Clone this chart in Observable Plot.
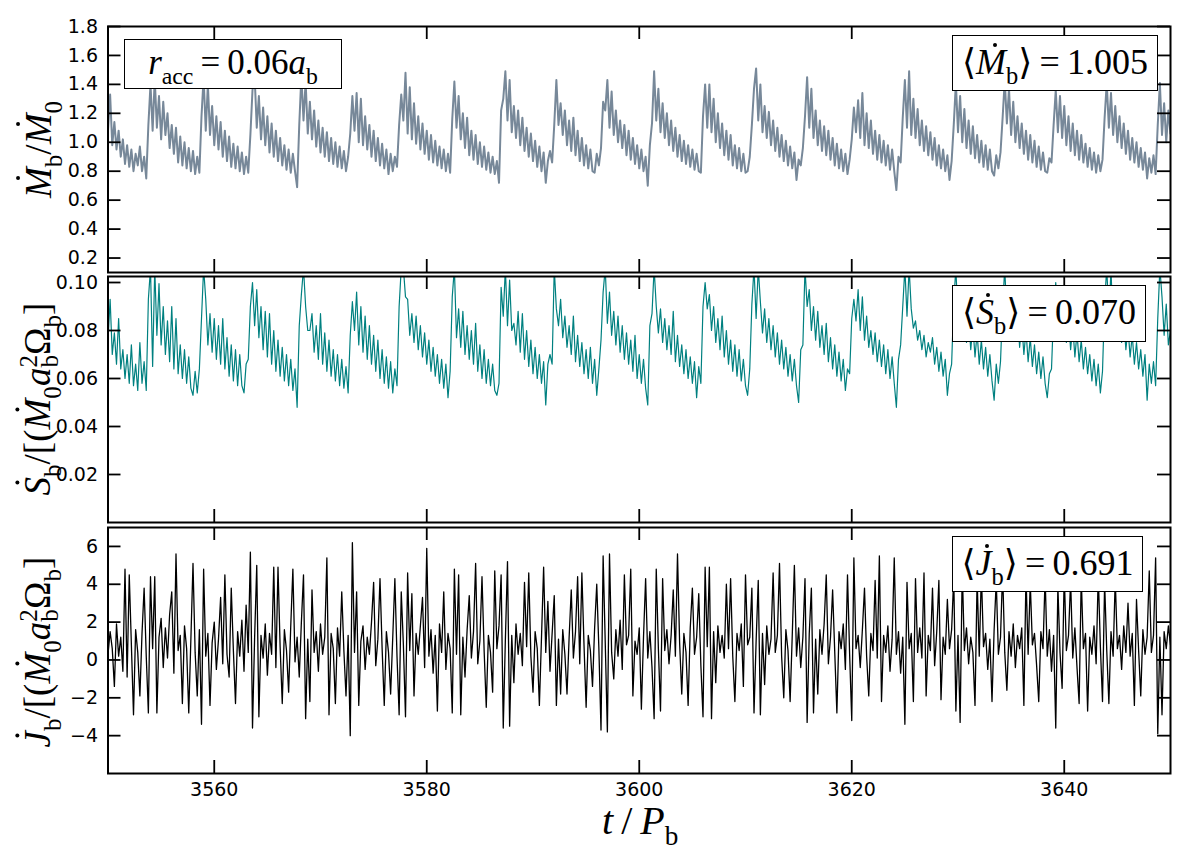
<!DOCTYPE html>
<html>
<head>
<meta charset="utf-8">
<script src="https://cdn.jsdelivr.net/npm/d3@7"></script>
<script src="https://cdn.jsdelivr.net/npm/@observablehq/plot@0.6"></script>
<style>
  html, body { margin: 0; padding: 0; background: #fff; }
  #wrap { position: relative; width: 1200px; height: 850px; background: #fff; overflow: hidden; }
  .panel { position: absolute; left: 0; }
  .math { font-family: "Liberation Serif", "DejaVu Serif", serif; color: #000; white-space: nowrap; }
  .math sub, .math sup { font-size: 0.68em; font-style: normal; line-height: 0; }
  .math sub { vertical-align: -0.42em; }
  .math i { font-style: italic; }
  .d { position: relative; display: inline-block; }
  .d::before { content: ""; position: absolute; left: 58%; top: -0.02em; width: 0.11em; height: 0.11em; border-radius: 50%; background: #000; }
  .ss { display: inline-block; vertical-align: -0.3em; line-height: 0.82; font-size: 0.68em; text-align: left; }
  .box { position: absolute; border: 1.5px solid #000; background: #fff; display: flex; align-items: center; justify-content: center; box-sizing: border-box; font-size: 36px; z-index: 5; }
  .box > span { display: block; line-height: 1; padding-bottom: 0.08em; }
  .ylab { position: absolute; font-size: 37px; transform-origin: center center; z-index: 4; }
  .xlab { position: absolute; font-size: 40px; z-index: 4; }
</style>
</head>
<body>
<div id="wrap"></div>
<script>
// ---------------- data ----------------
const tStart = 3550;          // first sample time  [P_b]
const tStep = 0.2;            // sampling interval  [P_b]

// Mdot_b / Mdot_0  (one line per accretion cycle)
const mdot = [
  1.08,1.33,0.98,1.14,0.95,1.08,0.9,1.02,0.85,0.98,0.83,0.95,0.8,0.92,0.84,0.97,0.8,0.9,0.75,
  1.12,1.4,1.08,1.44,1.1,1.32,1.02,1.28,1.05,1.2,0.96,1.12,0.92,1.1,0.86,1.04,0.84,1.0,0.82,0.96,0.8,0.94,0.78,0.9,0.79,
  1.18,1.45,1.08,1.4,1.05,1.25,0.98,1.18,0.95,1.14,0.9,1.08,0.87,1.04,0.83,0.99,0.82,0.97,0.8,0.93,0.78,0.9,0.79,
  1.05,1.36,1.46,1.1,1.32,1.02,1.24,0.98,1.18,0.93,1.13,0.9,1.08,0.87,1.03,0.84,0.98,0.81,0.95,0.79,0.92,0.8,0.69,
  1.12,1.46,1.15,1.42,1.06,1.28,1.02,1.22,0.97,1.15,0.93,1.1,0.9,1.07,0.87,1.03,0.85,1.0,0.83,0.97,0.82,0.94,0.8,0.9,
  1.06,1.32,1.08,1.34,1.0,1.3,0.98,1.18,0.95,1.12,0.9,1.08,0.87,1.03,0.84,0.99,0.82,0.95,0.78,0.92,0.8,0.9,0.83,
  1.12,1.33,1.15,1.48,1.06,1.38,1.02,1.27,0.99,1.18,0.95,1.13,0.92,1.08,0.88,1.05,0.86,1.01,0.84,0.97,0.82,0.95,0.8,0.92,0.79,
  1.16,1.42,1.1,1.32,1.02,1.2,0.96,1.17,0.91,1.08,0.88,1.05,0.85,1.0,0.83,0.97,0.81,0.93,0.79,0.9,0.78,0.87,0.72,
  1.22,1.3,1.49,1.15,1.43,1.07,1.25,1.03,1.22,0.98,1.17,0.94,1.1,0.9,1.06,0.87,1.01,0.83,0.97,0.8,0.93,0.72,0.87,0.94,0.86,
  1.12,1.43,1.12,1.27,1.05,1.22,0.98,1.15,0.94,1.17,0.91,1.08,0.87,1.03,0.84,0.98,0.82,0.95,0.8,0.79,0.92,0.84,0.96,
  1.28,1.22,1.43,1.1,1.35,1.05,1.22,1.0,1.15,0.96,1.12,0.91,1.08,0.88,1.03,0.85,0.98,0.82,0.95,0.8,0.9,0.7,
  0.98,1.13,1.49,1.15,1.37,1.07,1.27,1.03,1.2,0.98,1.15,0.94,1.1,0.9,1.05,0.87,1.01,0.85,0.98,0.83,0.95,0.81,0.92,0.8,0.79,
  1.18,1.4,1.1,1.4,1.07,1.3,1.0,1.2,0.96,1.13,0.91,1.08,0.88,1.05,0.84,0.98,0.82,0.96,0.8,0.92,0.79,0.8,0.9,
  1.12,1.37,1.51,1.15,1.4,1.07,1.25,1.03,1.21,0.98,1.15,0.94,1.1,0.9,1.05,0.87,1.01,0.84,0.97,0.82,0.93,0.74,0.88,0.84,0.96,
  1.18,1.45,1.1,1.37,1.03,1.22,0.98,1.15,0.94,1.11,0.91,1.08,0.88,1.03,0.84,0.99,0.82,0.95,0.8,0.92,0.78,0.88,
  1.02,1.24,1.07,1.29,1.03,1.34,0.98,1.2,0.96,1.15,0.92,1.08,0.88,1.05,0.86,1.01,0.84,0.98,0.81,0.95,0.8,0.67,0.9,0.86,
  1.17,1.43,1.1,1.49,1.05,1.3,1.03,1.23,0.98,1.15,0.94,1.11,0.91,1.07,0.88,1.03,0.84,0.98,0.82,0.95,0.8,0.91,0.74,0.87,
  1.12,1.41,1.07,1.32,1.0,1.23,0.96,1.15,0.92,1.11,0.89,1.05,0.86,1.01,0.83,0.98,0.81,0.95,0.8,0.77,0.91,0.82,0.93,
  1.17,1.43,1.13,1.37,1.05,1.28,1.0,1.18,0.96,1.13,0.92,1.08,0.88,1.05,0.86,1.01,0.83,0.97,0.81,0.93,0.8,0.79,0.89,0.86,
  1.12,1.36,1.07,1.32,1.03,1.25,0.98,1.18,0.94,1.13,0.91,1.08,0.88,1.05,0.86,0.99,0.83,0.96,0.81,0.93,0.79,0.91,0.8,0.88,
  1.17,1.41,1.1,1.34,1.05,1.25,1.0,1.18,0.96,1.13,0.92,1.08,0.88,1.03,0.86,1.0,0.83,0.96,0.81,0.93,0.75,0.89,0.79,0.91,0.78,
  1.12,1.41,1.05,1.27,1.0,1.22,1.06
];

// Sdot_b / (Mdot_0 a_b^2 Omega_b)
const sdot = [
  0.076,0.093,0.07,0.079,0.066,0.085,0.064,0.072,0.06,0.07,0.058,0.074,0.057,0.066,0.055,0.075,0.058,0.067,0.055,
  0.093,0.106,0.065,0.106,0.078,0.0995,0.074,0.09,0.07,0.084,0.067,0.09,0.064,0.085,0.062,0.074,0.06,0.072,0.058,0.069,0.056,0.053,0.063,0.054,0.064,
  0.085,0.106,0.093,0.074,0.087,0.071,0.085,0.068,0.082,0.066,0.085,0.064,0.077,0.061,0.074,0.059,0.072,0.057,0.07,0.057,0.054,0.066,0.068,
  0.09,0.1,0.082,0.097,0.077,0.09,0.072,0.088,0.069,0.087,0.066,0.08,0.063,0.076,0.061,0.073,0.059,0.07,0.057,0.068,0.055,0.064,0.048,
  0.082,0.095,0.106,0.09,0.08,0.08,0.087,0.071,0.082,0.068,0.087,0.066,0.079,0.063,0.076,0.061,0.072,0.059,0.07,0.057,0.068,0.056,0.065,0.054,
  0.078,0.092,0.08,0.096,0.074,0.09,0.071,0.086,0.068,0.082,0.066,0.078,0.063,0.076,0.06,0.072,0.058,0.069,0.056,0.067,0.054,0.064,0.057,
  0.09,0.106,0.106,0.094,0.093,0.078,0.087,0.075,0.086,0.072,0.082,0.069,0.079,0.066,0.076,0.063,0.073,0.061,0.07,0.058,0.068,0.056,0.066,0.052,0.063,
  0.094,0.106,0.077,0.089,0.073,0.088,0.07,0.082,0.068,0.08,0.066,0.083,0.063,0.074,0.06,0.072,0.058,0.068,0.057,0.066,0.055,0.053,0.058,
  0.098,0.086,0.106,0.082,0.101,0.08,0.083,0.074,0.088,0.071,0.087,0.068,0.08,0.065,0.076,0.062,0.073,0.06,0.07,0.058,0.067,0.049,0.066,0.07,0.066,
  0.106,0.089,0.082,0.093,0.077,0.086,0.073,0.082,0.07,0.086,0.067,0.078,0.065,0.075,0.062,0.072,0.06,0.073,0.058,0.068,0.053,0.064,0.076,
  0.096,0.106,0.083,0.096,0.078,0.088,0.074,0.086,0.071,0.082,0.068,0.079,0.066,0.076,0.063,0.078,0.06,0.07,0.058,0.068,0.056,0.049,
  0.082,0.087,0.106,0.09,0.079,0.089,0.075,0.085,0.072,0.082,0.07,0.088,0.067,0.078,0.065,0.074,0.062,0.072,0.06,0.069,0.058,0.067,0.052,0.065,0.058,
  0.09,0.1,0.089,0.095,0.08,0.09,0.075,0.085,0.072,0.086,0.069,0.08,0.066,0.076,0.063,0.074,0.061,0.072,0.059,0.068,0.057,0.053,0.064,
  0.091,0.106,0.085,0.106,0.092,0.079,0.089,0.075,0.085,0.072,0.082,0.069,0.079,0.066,0.076,0.064,0.073,0.061,0.07,0.059,0.068,0.057,0.05,0.072,0.074,
  0.106,0.09,0.097,0.08,0.09,0.076,0.088,0.073,0.082,0.07,0.083,0.067,0.077,0.064,0.074,0.061,0.071,0.059,0.068,0.055,0.064,0.062,
  0.085,0.093,0.084,0.097,0.08,0.094,0.076,0.086,0.073,0.08,0.07,0.079,0.067,0.076,0.065,0.074,0.062,0.072,0.06,0.069,0.058,0.048,0.068,0.074,
  0.09,0.106,0.086,0.106,0.089,0.081,0.084,0.076,0.08,0.072,0.078,0.069,0.075,0.071,0.077,0.066,0.073,0.063,0.071,0.061,0.068,0.053,0.062,0.066,
  0.092,0.106,0.084,0.096,0.079,0.09,0.075,0.085,0.072,0.082,0.069,0.079,0.066,0.076,0.064,0.073,0.061,0.07,0.059,0.051,0.066,0.058,0.067,
  0.09,0.106,0.085,0.097,0.081,0.092,0.076,0.087,0.073,0.083,0.07,0.08,0.067,0.077,0.065,0.074,0.062,0.071,0.06,0.069,0.058,0.052,0.062,0.064,
  0.088,0.1,0.082,0.095,0.078,0.09,0.075,0.085,0.072,0.082,0.069,0.079,0.067,0.076,0.064,0.073,0.062,0.07,0.059,0.068,0.057,0.066,0.054,0.063,
  0.092,0.106,0.086,0.105,0.082,0.092,0.078,0.088,0.075,0.085,0.072,0.081,0.069,0.078,0.066,0.075,0.064,0.072,0.061,0.07,0.051,0.066,0.058,0.067,0.057,
  0.085,0.106,0.094,0.078,0.091,0.074,0.08
];

// Jdot_b / (Mdot_0 a_b^2 Omega_b)
const jdot = [
  0.3,1.5,0.6,-1.4,1.9,0.2,1.2,-0.6,4.8,-0.9,
  4.5,0.8,-2.9,1.6,0.4,-1.9,1.4,3.8,0.2,-2.8,
  4.4,0.6,4.4,-2.8,1.2,2.2,-0.4,1.7,0.1,2.4,
  3.6,-0.7,5.6,0.5,1.3,-2.3,1.8,0.6,-2.8,1.1,
  5.1,0.4,-1.9,1.6,-3.4,4.8,0.2,1.4,-2.4,0.9,
  2.0,-0.5,1.1,3.3,-0.2,4.5,0.3,-0.9,3.8,0.5,
  -2.3,1.5,0.2,2.1,-0.6,2.9,0.4,5.7,-3.6,1.2,
  5.0,-3.0,1.3,0.1,1.9,-0.8,1.4,0.3,4.9,-0.4,
  4.9,0.7,-2.3,1.6,0.5,-1.7,1.8,4.8,-0.1,1.2,
  -0.9,2.0,4.5,-3.1,1.1,-2.2,3.7,0.4,1.5,-0.6,
  1.9,0.3,1.2,5.4,-2.9,1.4,0.6,-2.3,1.7,0.2,
  3.6,0.5,-1.9,1.3,-4.0,6.2,0.4,3.6,-2.4,1.0,
  1.8,-0.5,1.2,0.3,2.0,4.1,-0.3,1.1,4.3,0.6,
  -2.4,1.5,0.4,-1.8,1.2,4.3,0.2,-2.9,3.6,0.8,
  -3.0,4.6,0.5,3.5,-1.9,1.4,0.3,1.8,3.3,-0.4,
  5.9,0.2,1.6,-0.7,1.3,-2.7,1.9,0.4,3.6,-0.5,
  1.4,0.6,-2.8,4.8,0.3,4.5,-2.9,1.2,-0.9,1.6,
  3.4,0.1,1.5,5.1,-0.2,1.0,4.4,0.5,-2.5,1.3,
  0.4,-1.7,4.7,0.6,1.8,4.5,-3.6,1.1,5.2,-3.5,
  1.3,-1.2,1.9,0.3,1.4,-0.3,4.1,0.7,4.6,0.2,
  -1.7,1.5,0.6,-2.4,1.2,4.9,0.4,3.1,-0.6,1.4,
  3.4,-2.4,1.1,-1.8,1.6,0.3,-1.8,1.2,3.7,0.1,
  1.5,4.4,-0.2,4.6,0.8,-2.5,1.3,0.5,-1.4,1.7,
  4.0,0.6,-3.7,5.5,0.9,-3.8,5.6,0.4,-1.0,1.6,
  0.2,2.1,-0.5,4.5,0.8,1.3,4.8,-1.9,1.0,0.3,
  1.7,-2.6,1.2,4.3,0.1,1.5,-0.4,-3.1,4.8,0.6,
  -2.7,4.3,0.5,1.6,-0.2,1.3,3.7,0.2,5.6,0.9,
  -1.8,1.4,0.4,-2.4,1.7,3.8,0.3,1.2,3.5,-0.3,
  -3.0,4.9,0.7,4.9,-3.1,1.5,-1.2,1.8,0.4,1.3,
  0.1,4.0,0.6,4.3,0.2,-2.2,1.4,0.5,1.9,-1.4,
  4.5,0.8,1.2,3.8,-2.8,1.0,4.2,-2.9,1.4,-1.3,
  1.8,0.3,1.1,4.6,0.4,1.3,5.1,0.2,-2.0,1.6,
  0.5,-2.2,1.3,5.0,0.2,1.7,-0.4,1.2,4.3,-3.3,
  1.4,3.8,-2.8,1.1,-1.8,1.6,0.3,1.9,4.5,-0.2,
  1.2,3.7,0.4,-2.8,1.5,0.6,1.9,-0.5,4.5,0.3,
  -3.2,5.4,0.6,1.3,-0.4,1.6,3.8,0.2,-1.9,1.4,
  0.5,4.2,0.1,5.5,-2.2,1.3,0.4,1.8,-0.6,1.1,
  5.4,0.3,1.5,-0.7,1.2,-3.4,4.1,0.6,1.4,-2.2,
  4.3,0.4,1.7,0.1,4.6,-1.9,1.3,0.5,3.8,-0.3,
  1.5,4.2,-2.1,1.2,0.3,3.2,0.6,1.6,4.4,-2.7,
  1.3,-3.3,4.8,0.5,1.7,-0.2,1.2,0.4,-2.4,4.3,
  0.2,4.6,0.7,1.4,-0.5,1.1,-2.2,1.6,4.2,0.3,
  1.2,4.7,0.4,-1.6,1.5,0.2,1.9,-0.4,1.3,0.6,
  1.7,-2.4,4.5,0.3,4.1,0.8,1.4,-0.3,-2.2,1.5,
  0.6,4.4,0.2,1.6,-0.6,1.3,-3.6,3.9,0.4,-1.5,
  4.6,0.5,1.3,4.2,0.1,1.7,-0.4,-2.3,4.4,0.6,
  1.4,-2.7,1.2,0.3,1.8,-0.2,4.5,0.7,-2.2,4.1,
  0.5,-2.3,1.5,0.2,4.3,0.6,1.3,-0.5,1.8,0.4,
  3.0,0.2,1.4,-2.4,3.2,0.5,-1.9,1.6,0.3,1.2,
  4.7,0.4,1.3,5.4,-3.9,1.2,-2.9,1.5,0.6,1.8,
  0.8
];

// axis ticks
const xTicks = [3560, 3580, 3600, 3620, 3640];
const mTicks = [0.2, 0.4, 0.6, 0.8, 1.0, 1.2, 1.4, 1.6, 1.8];
const sTicks = [0.02, 0.04, 0.06, 0.08, 0.10];
const jTicks = [-4, -2, 0, 2, 4, 6];

// ---------------- table ----------------
const rows = mdot.map((m, i) => ({ t: tStart + i * tStep, m, s: sdot[i], j: jdot[i] }));

const W = 1200, ML = 107.5, MR = 30, INNER_H = 246, TICK = 13;
const innerW = W - ML - MR;

function panel({ key, color, sw, domain, ticks, fmt, mt, mb, showX }) {
  const marks = [
    Plot.line(rows, { x: "t", y: key, stroke: color, strokeWidth: sw, clip: true, strokeLinejoin: "round" }),
    Plot.tickX(xTicks, { x: d => d, insetTop: INNER_H - TICK, stroke: "#000", strokeWidth: 1.8 }),
    Plot.tickX(xTicks, { x: d => d, insetBottom: INNER_H - TICK, stroke: "#000", strokeWidth: 1.8 }),
    Plot.tickY(ticks, { y: d => d, insetRight: innerW - TICK, stroke: "#000", strokeWidth: 1.8 }),
    Plot.tickY(ticks, { y: d => d, insetLeft: innerW - TICK, stroke: "#000", strokeWidth: 1.8 }),
    Plot.axisY(ticks, { tickSize: 0, tickPadding: 10, tickFormat: fmt, label: null, fill: "#000" }),
    Plot.frame({ stroke: "#000", strokeWidth: 2 })
  ];
  if (showX) marks.push(Plot.axisX(xTicks, { tickSize: 0, tickPadding: 9, tickFormat: d => String(d), label: null, fill: "#000" }));
  return Plot.plot({
    width: W,
    height: mt + INNER_H + mb,
    marginLeft: ML, marginRight: MR, marginTop: mt, marginBottom: mb,
    style: { background: "transparent", overflow: "visible", fontFamily: "DejaVu Sans", fontSize: "19px", color: "#000" },
    x: { domain: [3550, 3650], axis: showX ? undefined : null },
    y: { domain },
    marks
  });
}

const wrap = document.getElementById("wrap");
function place(el, top) { el.classList.add("panel"); el.style.top = top + "px"; wrap.appendChild(el); }

place(panel({ key: "m", color: "#778899", sw: 2, domain: [0.1, 1.8], ticks: mTicks, fmt: d3.format(".1f"), mt: 26, mb: 2 }), 0);
place(panel({ key: "s", color: "#008080", sw: 1.2, domain: [0, 0.1025], ticks: sTicks, fmt: d3.format(".2f"), mt: 2, mb: 2 }), 274);
place(panel({ key: "j", color: "#000000", sw: 1.3, domain: [-6, 7], ticks: jTicks, fmt: d3.format("d"), mt: 3, mb: 77, showX: true }), 524);

// ---------------- annotations (HTML text) ----------------
function html(cls, style, inner) {
  const d = document.createElement("div");
  d.className = cls;
  Object.assign(d.style, style);
  d.innerHTML = inner;
  wrap.appendChild(d);
  return d;
}
const dotM = '<span class="d"><i>M</i></span>';
const dotS = '<span class="d"><i>S</i></span>';
const dotJ = '<span class="d"><i>J</i></span>';
const eq = '&#8201;=&#8201;';

html("box math", { left: "124px", top: "39px", width: "218px", height: "50px", fontSize: "35px" },
  '<span><i>r</i><sub>acc</sub>' + eq + '0.06<i>a</i><sub>b</sub></span>');
html("box math", { left: "952px", top: "35px", width: "206px", height: "56px" },
  '<span>&#10216;' + dotM + '<sub>b</sub>&#10217;' + eq + '1.005</span>');
html("box math", { left: "952px", top: "285px", width: "194px", height: "57px" },
  '<span>&#10216;' + dotS + '<sub>b</sub>&#10217;' + eq + '0.070</span>');
html("box math", { left: "952px", top: "536px", width: "191px", height: "56px" },
  '<span>&#10216;' + dotJ + '<sub>b</sub>&#10217;' + eq + '0.691</span>');

// rotated y labels
function ylab(inner, cy) {
  const d = html("ylab math", {}, inner);
  const w = d.offsetWidth, h = d.offsetHeight;
  d.style.left = (38 - w / 2) + "px";
  d.style.top = (cy - h / 2) + "px";
  d.style.transform = "rotate(-90deg)";
}
const a2b = '<i>a</i><span class="ss">2<br>b</span>';
ylab(dotM + '<sub>b</sub>/' + dotM + '<sub>0</sub>', 149);
ylab(dotS + '<sub>b</sub>/[(' + dotM + '<sub>0</sub>' + a2b + '&#937;<sub>b</sub>]', 399);
ylab(dotJ + '<sub>b</sub>/[(' + dotM + '<sub>0</sub>' + a2b + '&#937;<sub>b</sub>]', 652);

// x label
const xl = html("xlab math", {}, '<i>t</i>&#8201;/&#8201;<i>P</i><sub>b</sub>');
xl.style.left = (640 - xl.offsetWidth / 2) + "px";
xl.style.top = (820 - xl.offsetHeight / 2) + "px";
</script>
</body>
</html>
